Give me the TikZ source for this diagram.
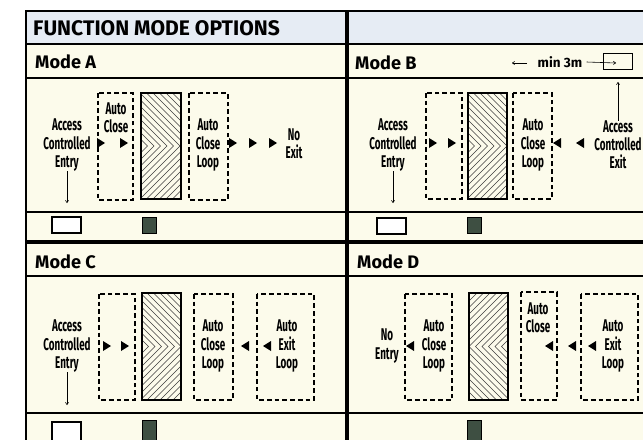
\documentclass[tikz,border=0pt]{standalone}
\usepackage{fontspec}
\setsansfont{Fira Sans}
\newfontfamily\narrowfont[FakeStretch=0.58]{Fira Sans}
\usetikzlibrary{arrows.meta}
\definecolor{fmCream}{RGB}{252,251,235}
\definecolor{fmBlue}{RGB}{230,236,244}
\definecolor{fmDark}{RGB}{62,79,66}
\definecolor{fmHatch}{RGB}{60,60,60}

\begin{document}
\begin{tikzpicture}[
    x=0.3mm, y=-0.3mm,
    tablerule/.style={line width=1.7pt},
    thickrule/.style={line width=3pt},
    loopbox/.style={draw, dash pattern=on 4pt off 2.6pt, line width=1pt},
    doorbox/.style={draw, line width=1.2pt},
    hatchline/.style={draw=fmHatch, line width=0.45pt},
    lbl/.style={font=\narrowfont\bfseries\fontsize{14.5}{15.4}\selectfont,
                align=center, inner sep=0pt},
    modelbl/.style={font=\sffamily\bfseries\fontsize{15.5}{17}\selectfont,
                    anchor=west, inner sep=0pt},
    pointer/.style={line width=0.5pt, -{To[length=2.5pt,width=3pt]}},
    fwd/.pic={\fill (-4,-5) -- (4,0) -- (-4,5) -- cycle;},
    bwd/.pic={\fill (4,-5) -- (-4,0) -- (4,5) -- cycle;}
]
\useasboundingbox (0,0) rectangle (643,440);
\clip (0,0) rectangle (643,440);

% table
\fill[white] (0,0) rectangle (643,440);
\fill[fmBlue] (26,11) rectangle (650,44);
\fill[fmCream] (26,44) rectangle (650,445);
\foreach \yy in {44,78,212,276,413} {
   \draw[tablerule] (26,\yy) -- (650,\yy);
}
\draw[thickrule] (26,242) -- (650,242);
\draw[line width=1.3pt] (650,11) -- (26,11) -- (26,445);
\draw[thickrule] (347,11) -- (347,445);

\node[modelbl, font=\sffamily\bfseries\fontsize{18}{20}\selectfont] (title) at (33,28) {FUNCTION MODE OPTIONS};
\node[modelbl] (modeA) at (35,62) {Mode A};
\node[modelbl] (modeB) at (355,63) {Mode B};
\node[modelbl] (modeC) at (35,262) {Mode C};
\node[modelbl] (modeD) at (357,262) {Mode D};

% loops (dashed)
\foreach \xa/\ya/\xb/\yb in {98/93/133/200, 189/93/228/200,
                             426/93/462/199, 513/93/552/199,
                             99/294/135/400, 194/294/233/400, 257/294/314/400,
                             405/294/452/400, 521/292/557/400, 581/294/638/400} {
   \draw[loopbox] (\xa,\ya) rectangle (\xb,\yb);
}

% doors with chevron hatching
\foreach \xa/\ya/\xb/\yb/\dir in {141/93/181/199/1, 468/93/507/199/1,
                                  142/293/181/400/1, 469/293/508/400/-1} {
   \begin{scope}
      \clip (\xa,\ya) rectangle (\xb,\yb);
      \pgfmathsetmacro{\ym}{(\ya+\yb)/2}
      \pgfmathsetmacro{\hh}{(\yb-\ya)/2}
      \foreach \k in {0,...,16} {
         \pgfmathsetmacro{\ax}{(\dir)>0 ? \xa+6.5*\k : \xb-6.5*\k}
         \pgfmathsetmacro{\bx}{\ax-(\dir)*\hh}
         \draw[hatchline] (\bx,\ya) -- (\ax,\ym) -- (\bx,\yb);
      }
   \end{scope}
   \draw[doorbox] (\xa,\ya) rectangle (\xb,\yb);
}

% direction marks
\foreach \px/\py in {101/143, 124/143, 233/143, 253/143, 273/143,
                     433/143, 452/143, 107/346, 125/346} {
   \pic at (\px,\py) {fwd};
}
\foreach \px/\py in {557/143, 580/143, 245/346, 267/346,
                     410/346, 549/346, 572/346, 592/346} {
   \pic at (\px,\py) {bwd};
}

% Mode A
\node[lbl] (entA) at (67,145) {Access\\Controlled\\Entry};
\node[lbl] (acA) at (116,118) {Auto\\Close};
\node[lbl] (aclA) at (208,145) {Auto\\Close\\Loop};
\node[lbl] (noexA) at (294,144) {No\\Exit};
\coordinate (entAtip) at (67,203);
\draw[pointer] (entA.south) -- (entAtip);

% Mode B
\node[modelbl, font=\sffamily\bfseries\fontsize{11.5}{13}\selectfont, anchor=center] (min3m) at (560,62) {min 3m};
\coordinate (minA) at (527,63);
\coordinate (minL) at (512,63);
\node[draw, line width=0.8pt, minimum width=8.7mm, minimum height=4.8mm, inner sep=0pt] (gate) at (617.5,61) {};
\coordinate (gateTip) at (616,63);
\draw[pointer] (minA) -- (minL);
\draw[pointer] ([xshift=1.2mm]min3m.east) -- (gateTip);
\node[lbl] (entB) at (393,145) {Access\\Controlled\\Entry};
\node[lbl] (aclB) at (533,145) {Auto\\Close\\Loop};
\node[lbl] (exB) at (618,145) {Access\\Controlled\\Exit};
\coordinate (entBtip) at (393,203);
\coordinate (exBtip) at (618,82);
\draw[pointer] (entB.south) -- (entBtip);
\draw[pointer] (exB.north) -- (exBtip);

% Mode C
\node[lbl] (entC) at (67,346) {Access\\Controlled\\Entry};
\node[lbl] (aclC) at (213,346) {Auto\\Close\\Loop};
\node[lbl] (aelC) at (287,346) {Auto\\Exit\\Loop};
\coordinate (entCtip) at (67,405);
\draw[pointer] (entC.south) -- (entCtip);

% Mode D
\node[lbl] (noenD) at (387,346) {No\\Entry};
\node[lbl] (aclD) at (434,346) {Auto\\Close\\Loop};
\node[lbl] (acD) at (538,318) {Auto\\Close};
\node[lbl] (aelD) at (613,346) {Auto\\Exit\\Loop};

% reader / button markers
\foreach \xa/\ya/\xb/\yb in {52/217/81/233, 377/218/406/234, 52/422/81/445} {
   \draw[line width=1pt, fill=white] (\xa,\ya) rectangle (\xb,\yb);
}
\foreach \xa/\ya/\xb/\yb in {142/217/156/233, 467/217/481/233,
                             142/420/156/445, 467/420/481/445} {
   \draw[line width=0.8pt, fill=fmDark] (\xa,\ya) rectangle (\xb,\yb);
}
\end{tikzpicture}
\end{document}
